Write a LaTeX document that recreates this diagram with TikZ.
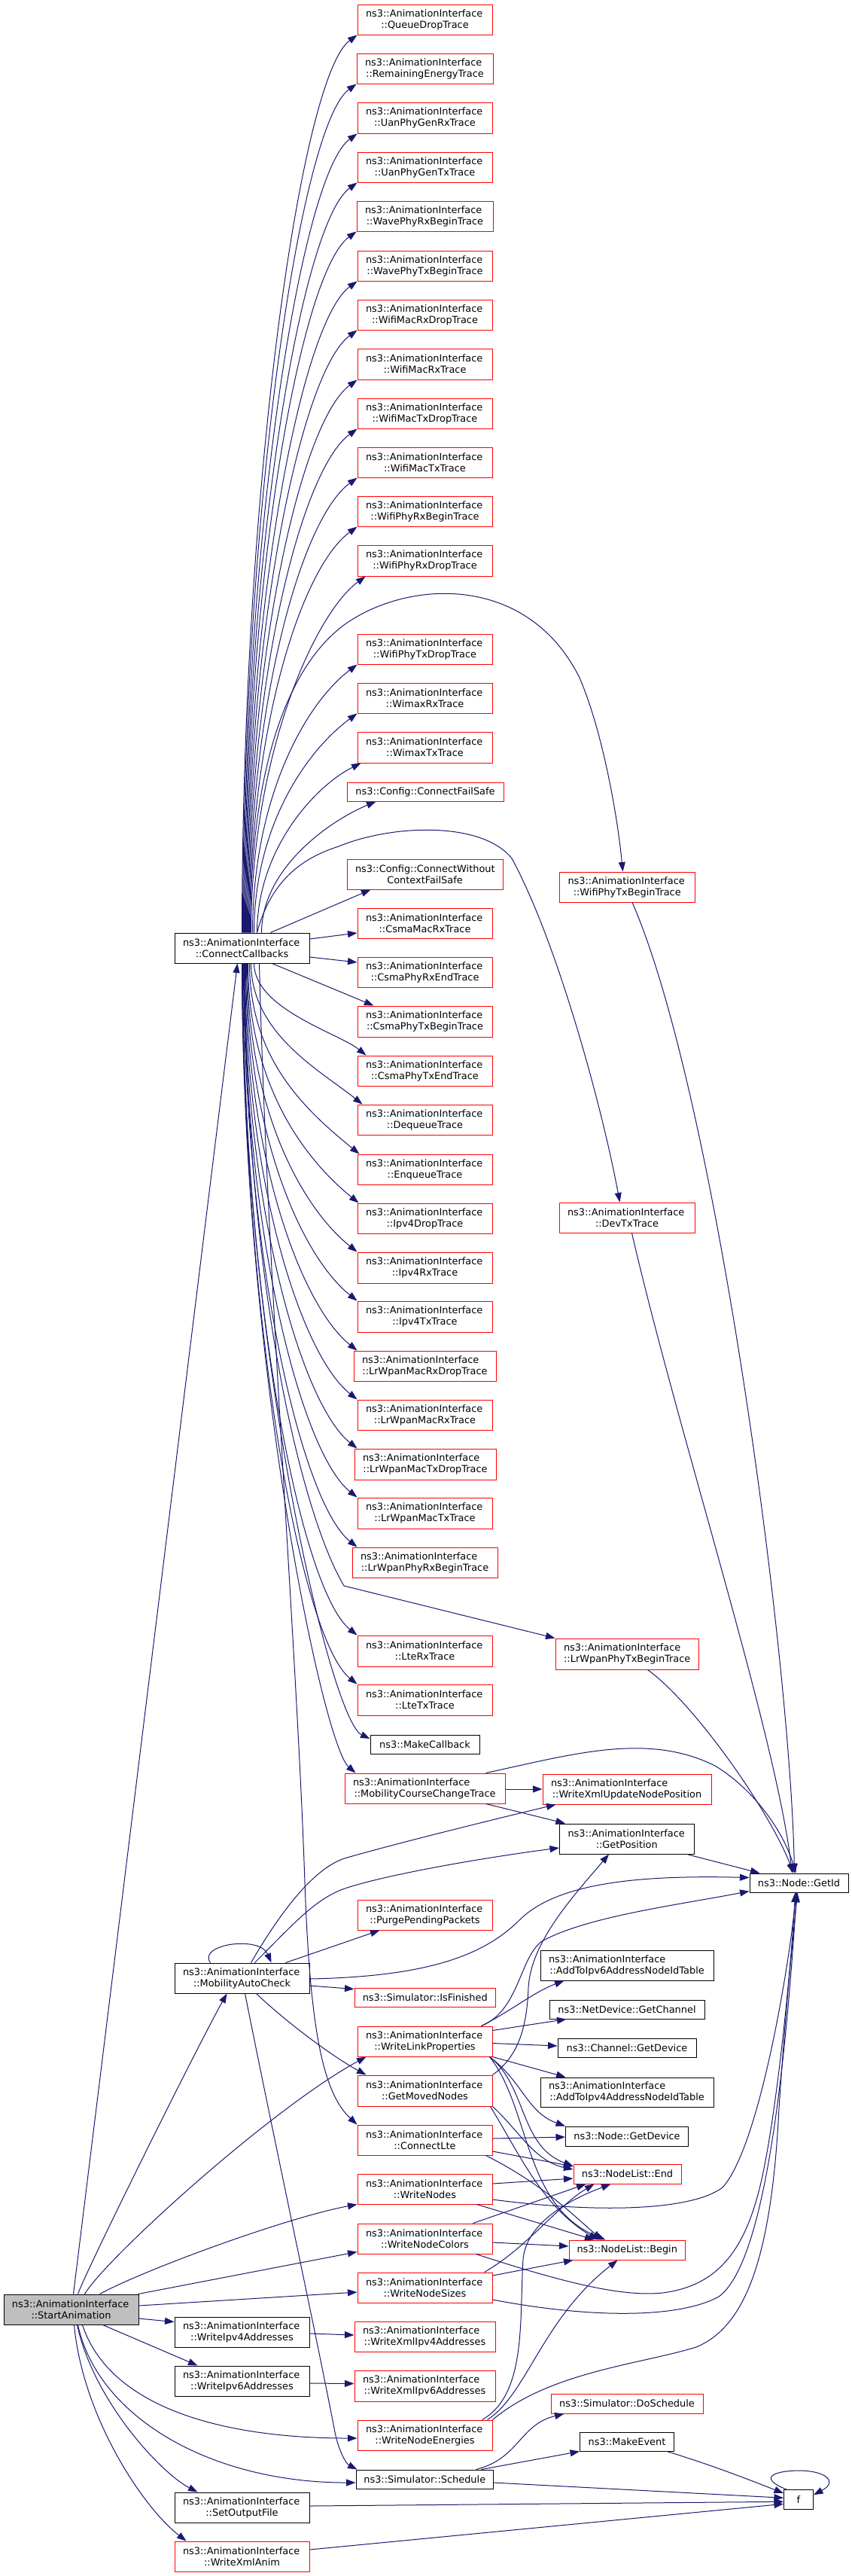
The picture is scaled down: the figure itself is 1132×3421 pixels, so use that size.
\documentclass[tikz,border=0pt]{standalone}
\usepackage{fontspec}
\setmainfont{DejaVu Sans}
\usetikzlibrary{arrows.meta,calc}
\definecolor{edgecol}{HTML}{191970}
\definecolor{redb}{HTML}{FF0000}
\definecolor{greyfill}{HTML}{BFBFBF}
\tikzset{
  box/.style={draw=black, line width=1pt, fill=white, inner sep=0pt, align=center, font=\fontsize{12.9}{15}\selectfont},
  redbox/.style={box, draw=redb},
  rootbox/.style={box, fill=greyfill},
  edge/.style={draw=edgecol, line width=1pt, -{Triangle[length=12.5pt,width=9pt]}},
}
\newcommand\nd[8]{%
  \pgfmathsetmacro\ndw{#4-#2}\pgfmathsetmacro\ndh{#5-#3}\pgfmathsetmacro\ndtw{#4-#2-22}%
  \pgfmathsetmacro\ndx{(#2+#4)/2}\pgfmathsetmacro\ndy{(#3+#5)/2}%
  \node[#6, minimum width=\ndw pt, minimum height=\ndh pt, text width=\ndtw pt] (#1) at (\ndx,\ndy) {\makebox[\hsize][l]{#7}\\#8};}
\newcommand\ndone[7]{%
  \pgfmathsetmacro\ndw{#4-#2}\pgfmathsetmacro\ndh{#5-#3}%
  \pgfmathsetmacro\ndx{(#2+#4)/2}\pgfmathsetmacro\ndy{(#3+#5)/2}%
  \node[#6, minimum width=\ndw pt, minimum height=\ndh pt] (#1) at (\ndx,\ndy) {#7};}
\def\AI{ns3::AnimationInterface}
\begin{document}
\begin{tikzpicture}[x=1pt,y=-1pt]
\fill[white] (0,0) rectangle (1132,3421);
\path[use as bounding box] (0,0) rectangle (1132,3421);
% ---------- nodes: trace column
\nd{T1}{475}{6}{654}{46}{redbox}{\AI}{::QueueDropTrace}
\nd{T2}{474}{71}{655}{111}{redbox}{\AI}{::RemainingEnergyTrace}
\nd{T3}{475}{136}{654}{177}{redbox}{\AI}{::UanPhyGenRxTrace}
\nd{T4}{475}{202}{654}{242}{redbox}{\AI}{::UanPhyGenTxTrace}
\nd{T5}{474}{267}{655}{307}{redbox}{\AI}{::WavePhyRxBeginTrace}
\nd{T6}{475}{333}{654}{373}{redbox}{\AI}{::WavePhyTxBeginTrace}
\nd{T7}{475}{398}{654}{438}{redbox}{\AI}{::WifiMacRxDropTrace}
\nd{T8}{475}{463}{654}{504}{redbox}{\AI}{::WifiMacRxTrace}
\nd{T9}{475}{529}{654}{569}{redbox}{\AI}{::WifiMacTxDropTrace}
\nd{T10}{475}{594}{654}{634}{redbox}{\AI}{::WifiMacTxTrace}
\nd{T11}{475}{659}{654}{699}{redbox}{\AI}{::WifiPhyRxBeginTrace}
\nd{T12}{475}{724}{654}{765}{redbox}{\AI}{::WifiPhyRxDropTrace}
\nd{T13}{475}{842}{654}{882}{redbox}{\AI}{::WifiPhyTxDropTrace}
\nd{T14}{475}{907}{654}{947}{redbox}{\AI}{::WimaxRxTrace}
\nd{T15}{475}{972}{654}{1013}{redbox}{\AI}{::WimaxTxTrace}
\ndone{T16}{461}{1039}{669}{1064}{redbox}{ns3::Config::ConnectFailSafe}
\nd{T17}{461}{1141}{668}{1181}{redbox}{ns3::Config::ConnectWithout}{ContextFailSafe}
\nd{T18}{475}{1206}{654}{1246}{redbox}{\AI}{::CsmaMacRxTrace}
\nd{T19}{475}{1271}{654}{1311}{redbox}{\AI}{::CsmaPhyRxEndTrace}
\nd{T20}{475}{1336}{654}{1377}{redbox}{\AI}{::CsmaPhyTxBeginTrace}
\nd{T21}{475}{1402}{654}{1442}{redbox}{\AI}{::CsmaPhyTxEndTrace}
\nd{T22}{475}{1467}{654}{1507}{redbox}{\AI}{::DequeueTrace}
\nd{T23}{475}{1533}{654}{1573}{redbox}{\AI}{::EnqueueTrace}
\nd{T24}{475}{1598}{654}{1638}{redbox}{\AI}{::Ipv4DropTrace}
\nd{T25}{475}{1663}{654}{1704}{redbox}{\AI}{::Ipv4RxTrace}
\nd{T26}{475}{1728}{654}{1769}{redbox}{\AI}{::Ipv4TxTrace}
\nd{T27}{470}{1794}{659}{1834}{redbox}{\AI}{::LrWpanMacRxDropTrace}
\nd{T28}{475}{1859}{654}{1899}{redbox}{\AI}{::LrWpanMacRxTrace}
\nd{T29}{471}{1924}{659}{1965}{redbox}{\AI}{::LrWpanMacTxDropTrace}
\nd{T30}{475}{1989}{654}{2030}{redbox}{\AI}{::LrWpanMacTxTrace}
\nd{T31}{468}{2055}{661}{2095}{redbox}{\AI}{::LrWpanPhyRxBeginTrace}
\nd{T32}{475}{2172}{654}{2213}{redbox}{\AI}{::LteRxTrace}
\nd{T33}{475}{2237}{654}{2278}{redbox}{\AI}{::LteTxTrace}
\ndone{T34}{492}{2304}{637}{2329}{box}{ns3::MakeCallback}
\nd{T35}{458}{2355}{671}{2395}{redbox}{\AI}{::MobilityCourseChangeTrace}
% ---------- nodes: right part
\nd{WPTB}{743.5}{1158}{923}{1198}{redbox}{\AI}{::WifiPhyTxBeginTrace}
\nd{DevTx}{743}{1597}{923}{1637}{redbox}{\AI}{::DevTxTrace}
\nd{LPTB}{738}{2176}{928.5}{2217}{redbox}{\AI}{::LrWpanPhyTxBeginTrace}
\nd{WXU}{721}{2356}{945}{2396}{redbox}{\AI}{::WriteXmlUpdateNodePosition}
\nd{GP}{743.5}{2422}{922}{2462}{box}{\AI}{::GetPosition}
\ndone{GID}{996}{2488}{1127}{2513}{box}{ns3::Node::GetId}
\nd{A6}{718}{2590}{948}{2630}{box}{\AI}{::AddToIpv6AddressNodeIdTable}
\ndone{NDGC}{730}{2656}{936}{2681}{box}{ns3::NetDevice::GetChannel}
\ndone{CGD}{741}{2707}{925}{2732}{box}{ns3::Channel::GetDevice}
\nd{A4}{718}{2759}{948}{2798}{box}{\AI}{::AddToIpv4AddressNodeIdTable}
\ndone{NGD}{751.5}{2824}{914.5}{2850}{box}{ns3::Node::GetDevice}
\ndone{NLE}{762}{2874}{905}{2900}{redbox}{ns3::NodeList::End}
\ndone{NLB}{756}{2975}{910.5}{3001}{redbox}{ns3::NodeList::Begin}
\ndone{SDS}{732}{3179}{934}{3205}{redbox}{ns3::Simulator::DoSchedule}
\ndone{ME}{770.5}{3230}{895.5}{3255}{box}{ns3::MakeEvent}
\ndone{f}{1041.5}{3306.5}{1080.5}{3332}{box}{f}
% ---------- nodes: second column lower
\nd{PPP}{475}{2523}{654}{2563}{redbox}{\AI}{::PurgePendingPackets}
\ndone{SIF}{471}{2640}{658.5}{2665}{redbox}{ns3::Simulator::IsFinished}
\nd{WLP}{475}{2691}{654}{2731}{redbox}{\AI}{::WriteLinkProperties}
\nd{GMN}{475}{2756}{654}{2797}{redbox}{\AI}{::GetMovedNodes}
\nd{CLTE}{475}{2822}{654}{2862}{redbox}{\AI}{::ConnectLte}
\nd{WN}{475}{2887}{654}{2927}{redbox}{\AI}{::WriteNodes}
\nd{WNC}{475}{2953}{654}{2993}{redbox}{\AI}{::WriteNodeColors}
\nd{WNS}{475}{3018}{654}{3058}{redbox}{\AI}{::WriteNodeSizes}
\nd{WX4}{471}{3083}{658}{3123}{redbox}{\AI}{::WriteXmlIpv4Addresses}
\nd{WX6}{471}{3148}{658}{3189}{redbox}{\AI}{::WriteXmlIpv6Addresses}
\nd{WNE}{475}{3214}{654}{3254}{redbox}{\AI}{::WriteNodeEnergies}
\ndone{SCH}{473}{3280}{655.5}{3305}{box}{ns3::Simulator::Schedule}
% ---------- nodes: middle column
\nd{CC}{232}{1239}{411}{1279}{box}{\AI}{::ConnectCallbacks}
\nd{MAC}{232}{2607}{411}{2647}{box}{\AI}{::MobilityAutoCheck}
\nd{WI4}{232}{3077}{411}{3117}{box}{\AI}{::WriteIpv4Addresses}
\nd{WI6}{232}{3142}{411}{3182}{box}{\AI}{::WriteIpv6Addresses}
\nd{SOF}{232}{3310}{411}{3350}{box}{\AI}{::SetOutputFile}
\nd{WXA}{232}{3375}{411}{3415}{redbox}{\AI}{::WriteXmlAnim}
\nd{SA}{5}{3047}{184}{3087}{rootbox}{\AI}{::StartAnimation}

% ---------- edges from StartAnimation
\draw[edge] ($(SA.north west)+(93,0)$) -- ($(CC.south west)+(84,0)$);
\draw[edge] ($(SA.north west)+(99,0)$) .. controls (116,3012) and (262,2718) .. ($(MAC.south west)+(70,0)$);
\draw[edge] ($(SA.north west)+(108,0)$) .. controls (140,3000) and (360,2800) .. ($(WLP.south west)+(12,0)$);
\draw[edge] ($(SA.north west)+(128,0)$) .. controls (190,3015) and (380,2945) .. (WN.south west);
\draw[edge] ($(SA.north east)+(-1,0)$) -- ($(WNC.south west)+(0,-3)$);
\draw[edge] ($(SA.east)+(0,-5)$) -- ($(WNS.west)+(0,6)$);
\draw[edge] ($(SA.east)+(0,12)$) -- ($(WI4.north west)+(0,7)$);
\draw[edge] ($(SA.south west)+(132,0)$) -- ($(WI6.north west)+(31,0)$);
\draw[edge] ($(SA.south west)+(105,0)$) .. controls (145,3195) and (290,3238) .. ($(WNE.west)+(0,4)$);
\draw[edge] ($(SA.south west)+(99,0)$) .. controls (130,3210) and (280,3297) .. ($(SCH.west)+(0,4.5)$);
\draw[edge] ($(SA.south west)+(98,0)$) .. controls (125,3190) and (215,3285) .. ($(SOF.north west)+(31,0)$);
\draw[edge] ($(SA.south west)+(94,0)$) .. controls (110,3210) and (190,3330) .. ($(WXA.north west)+(16,0)$);

% ---------- edges from ConnectCallbacks (upward)
\draw[edge] ($(CC.north west)+(90,0)$) .. controls (322,643) and (400,101) .. (T1.south west);
\draw[edge] ($(CC.north west)+(91,0)$) .. controls (323,675) and (399,166) .. (T2.south west);
\draw[edge] ($(CC.north west)+(92,0)$) .. controls (324,708) and (400,232) .. (T3.south west);
\draw[edge] ($(CC.north west)+(93,0)$) .. controls (325,740) and (400,297) .. (T4.south west);
\draw[edge] ($(CC.north west)+(94,0)$) .. controls (326,773) and (399,362) .. (T5.south west);
\draw[edge] ($(CC.north west)+(95,0)$) .. controls (327,806) and (400,428) .. (T6.south west);
\draw[edge] ($(CC.north west)+(96,0)$) .. controls (328,838) and (400,493) .. (T7.south west);
\draw[edge] ($(CC.north west)+(97,0)$) .. controls (329,871) and (400,559) .. (T8.south west);
\draw[edge] ($(CC.north west)+(98,0)$) .. controls (330,904) and (400,624) .. (T9.south west);
\draw[edge] ($(CC.north west)+(99,0)$) .. controls (331,936) and (400,689) .. (T10.south west);
\draw[edge] ($(CC.north west)+(100,0)$) .. controls (332,969) and (400,754) .. (T11.south west);
\draw[edge] ($(CC.north west)+(102,0)$) .. controls (334,1002) and (418,815) .. ($(T12.south west)+(11,0)$);
\draw[edge] ($(CC.north west)+(104,0)$) .. controls (336,1060) and (405,935) .. (T13.south west);
\draw[edge] ($(CC.north west)+(106,0)$) .. controls (338,1093) and (410,995) .. (T14.south west);
\draw[edge] ($(CC.north west)+(110,0)$) .. controls (342,1126) and (420,1043) .. ($(T15.south west)+(5,0)$);
\draw[edge] ($(CC.north west)+(116,0)$) .. controls (348,1152) and (440,1089) .. ($(T16.south west)+(39,0)$);
\draw[edge] ($(CC.north west)+(128,0)$) -- ($(T17.south west)+(32,0)$);
\draw[edge] ($(CC.north west)+(101,0)$) .. controls (333,1000) and (390,880) .. (457,830)
  .. controls (540,770) and (700,760) .. (770,900)
  .. controls (800,970) and (820,1080) .. ($(WPTB.north west)+(84.5,0)$);
\draw[edge] ($(CC.north west)+(110,0)$) .. controls (360,1170) and (400,1140) .. (450,1124)
  .. controls (520,1095) and (640,1090) .. (680,1140)
  .. controls (740,1250) and (800,1470) .. ($(DevTx.north west)+(81,0)$);
% ---------- edges from ConnectCallbacks (side and downward)
\draw[edge] ($(CC.east)+(0,-12)$) -- ($(T18.west)+(0,13)$);
\draw[edge] ($(CC.east)+(0,12)$) -- ($(T19.west)+(0,-13)$);
\draw[edge] ($(CC.south west)+(130,0)$) -- ($(T20.north west)+(22,0)$);
\draw[edge] ($(CC.south west)+(106,0)$) .. controls (338,1340) and (450,1372) .. ($(T21.north west)+(12,0)$);
\draw[edge] ($(CC.south west)+(102,0)$) .. controls (334,1373) and (426,1422) .. ($(T22.north west)+(7,0)$);
\draw[edge] ($(CC.south west)+(100,0)$) .. controls (332,1405) and (403,1472) .. ($(T23.north west)+(3,0)$);
\draw[edge] ($(CC.south west)+(98,0)$) .. controls (330,1438) and (402,1537) .. ($(T24.north west)+(2,0)$);
\draw[edge] ($(CC.south west)+(97,0)$) .. controls (329,1471) and (400,1603) .. (T25.north west);
\draw[edge] ($(CC.south west)+(96,0)$) .. controls (328,1503) and (400,1668) .. (T26.north west);
\draw[edge] ($(CC.south west)+(95,0)$) .. controls (327,1536) and (400,1734) .. ($(T27.north west)+(5,0)$);
\draw[edge] ($(CC.south west)+(94,0)$) .. controls (326,1569) and (400,1799) .. (T28.north west);
\draw[edge] ($(CC.south west)+(93,0)$) .. controls (325,1601) and (400,1864) .. ($(T29.north west)+(4,0)$);
\draw[edge] ($(CC.south west)+(92.5,0)$) .. controls (324,1634) and (400,1929) .. (T30.north west);
\draw[edge] ($(CC.south west)+(92,0)$) .. controls (324,1667) and (400,1995) .. ($(T31.north west)+(7,0)$);
\draw[edge] ($(CC.south west)+(94,0)$) .. controls (326,1700) and (400,2010) .. (457,2106) -- (LPTB.north west);
\draw[edge] ($(CC.south west)+(91,0)$) .. controls (323,1726) and (400,2112) .. (T32.north west);
\draw[edge] ($(CC.south west)+(91,0)$) .. controls (323,1758) and (400,2177) .. (T33.north west);
\draw[edge] ($(CC.south west)+(90,0)$) .. controls (322,1794) and (440,2285) .. ($(T34.west)+(0,-7.5)$);
\draw[edge] ($(CC.south west)+(90,0)$) .. controls (322,1817) and (430,2318) .. ($(T35.north west)+(15,0)$);
\draw[edge] ($(CC.south west)+(113,0)$) .. controls (355,1700) and (395,2200) .. (405,2500)
  .. controls (412,2700) and (430,2780) .. (CLTE.north west);

% ---------- edges to Node::GetId from above
\draw[edge] ($(WPTB.south west)+(97,0)$) .. controls (950,1450) and (1050,2200) .. ($(GID.north west)+(60,0)$);
\draw[edge] ($(DevTx.south west)+(97,0)$) .. controls (900,1900) and (1030,2300) .. ($(GID.north west)+(57,0)$);
\draw[edge] ($(LPTB.south west)+(123,0)$) .. controls (920,2260) and (1020,2400) .. ($(GID.north west)+(59,0)$);
\draw[edge] ($(T35.north west)+(188,0)$) .. controls (760,2330) and (860,2300) .. (950,2345)
  .. controls (1000,2375) and (1040,2430) .. ($(GID.north west)+(62,0)$);
\draw[edge] ($(T35.east)+(0,1)$) -- (WXU.west);
\draw[edge] ($(T35.south west)+(188,0)$) -- ($(GP.north west)+(8,0)$);
\draw[edge] ($(GP.south east)+(-10,0)$) -- ($(GID.north west)+(14,0)$);

% ---------- edges from MobilityAutoCheck
\draw[edge] ($(MAC.north west)+(48,0)$) .. controls (262,2582) and (345,2570) .. ($(MAC.north west)+(129,0)$);
\draw[edge] ($(MAC.north west)+(102,0)$) .. controls (375,2535) and (420,2478) .. (461,2467)
  .. controls (520,2450) and (640,2420) .. ($(WXU.south west)+(18,0)$);
\draw[edge] ($(MAC.north west)+(107,0)$) .. controls (390,2555) and (420,2520) .. (461,2507)
  .. controls (520,2488) and (650,2466) .. ($(GP.west)+(0,12)$);
\draw[edge] ($(MAC.north west)+(148,0)$) -- ($(PPP.south west)+(30,0)$);
\draw[edge] ($(MAC.east)+(0,1)$) .. controls (560,2625) and (640,2600) .. (690,2550)
  .. controls (740,2500) and (850,2490) .. ($(GID.north west)+(0,6)$);
\draw[edge] ($(MAC.east)+(0,10)$) -- ($(SIF.north west)+(0,2)$);
\draw[edge] ($(MAC.south west)+(109,0)$) .. controls (380,2685) and (440,2730) .. ($(GMN.north west)+(12,0)$);
\draw[edge] ($(MAC.south west)+(94,0)$) .. controls (370,2870) and (420,3100) .. (445,3230)
  .. controls (450,3255) and (460,3272) .. ($(SCH.north west)+(2,0)$);

% ---------- WriteLinkProperties
\draw[edge] ($(WLP.north west)+(165,0)$) .. controls (690,2670) and (690,2600) .. (720,2578)
  .. controls (780,2545) and (900,2530) .. ($(GID.south west)+(0,-2)$);
\draw[edge] ($(WLP.north west)+(165,0)$) .. controls (680,2670) and (710,2645) .. ($(A6.south west)+(32,0)$);
\draw[edge] ($(WLP.north east)+(0,6)$) -- ($(NDGC.south west)+(23,0)$);
\draw[edge] ($(WLP.north east)+(0,23)$) -- ($(CGD.west)+(0,-2.5)$);
\draw[edge] (WLP.south east) -- ($(A4.north west)+(34,0)$);
\draw[edge] ($(WLP.south east)+(-4,0)$) .. controls (695,2765) and (700,2805) .. (NGD.north west);
\draw[edge] ($(WLP.south east)+(-4,0)$) .. controls (700,2770) and (690,2850) .. ($(NLE.north west)+(0,3)$);
\draw[edge] ($(WLP.south east)+(-4,0)$) .. controls (705,2800) and (695,2930) .. ($(NLB.north west)+(49,0)$);
% ---------- GetMovedNodes
\draw[edge] (GMN.north east) .. controls (690,2730) and (700,2690) .. (702,2640)
  .. controls (705,2580) and (760,2520) .. ($(GP.south west)+(66,0)$);
\draw[edge] (GMN.south east) .. controls (690,2830) and (710,2870) .. ($(NLE.west)+(0,-6)$);
\draw[edge] ($(GMN.south east)+(-3,0)$) .. controls (690,2860) and (720,2930) .. ($(NLB.north west)+(39,0)$);
% ---------- ConnectLte
\draw[edge] ($(CLTE.east)+(0,-2)$) -- ($(NGD.west)+(0,1)$);
\draw[edge] ($(CLTE.east)+(0,15)$) -- ($(NLE.west)+(0,-10)$);
\draw[edge] ($(CLTE.south east)+(-9,0)$) .. controls (720,2900) and (760,2940) .. ($(NLB.north west)+(44,0)$);
% ---------- WriteNodes
\draw[edge] ($(WN.east)+(0,-7)$) -- ($(NLE.west)+(0,6)$);
\draw[edge] ($(WN.south east)+(-21,0)$) -- ($(NLB.north west)+(34,0)$);
\draw[edge] ($(WN.east)+(0,14)$) .. controls (800,2940) and (920,2935) .. (960,2905)
  .. controls (1010,2850) and (1050,2600) .. ($(GID.south west)+(62,0)$);
% ---------- WriteNodeColors
\draw[edge] ($(WNC.north west)+(154,0)$) -- ($(NLE.south west)+(17,0)$);
\draw[edge] ($(WNC.east)+(0,5)$) -- ($(NLB.west)+(0,-5)$);
\draw[edge] ($(WNC.south west)+(158,0)$) .. controls (760,3035) and (830,3050) .. (880,3045)
  .. controls (960,3035) and (995,2980) .. (1015,2880)
  .. controls (1035,2780) and (1052,2600) .. ($(GID.south west)+(61,0)$);
% ---------- WriteNodeSizes
\draw[edge] ($(WNS.north west)+(169,0)$) .. controls (700,2985) and (740,2930) .. ($(NLE.south west)+(28,0)$);
\draw[edge] ($(WNS.east)+(0,-16)$) -- ($(NLB.south west)+(6,0)$);
\draw[edge] ($(WNS.east)+(0,16)$) .. controls (780,3078) and (900,3080) .. (955,3050)
  .. controls (1010,3010) and (1040,2800) .. ($(GID.south west)+(63,0)$);
% ---------- WriteNodeEnergies
\draw[edge] ($(WNE.north west)+(166,0)$) .. controls (700,3180) and (690,3080) .. (695,3000)
  .. controls (700,2950) and (760,2920) .. ($(NLE.south west)+(50,0)$);
\draw[edge] ($(WNE.north west)+(173,0)$) .. controls (700,3180) and (720,3080) .. ($(NLB.south west)+(65,0)$);
\draw[edge] (WNE.north east) .. controls (730,3150) and (850,3140) .. (925,3117)
  .. controls (990,3090) and (1025,3000) .. (1035,2800)
  .. controls (1045,2650) and (1055,2560) .. ($(GID.south west)+(64,0)$);
% ---------- address writers
\draw[edge] ($(WI4.east)+(0,2)$) -- ($(WX4.west)+(0,-2)$);
\draw[edge] ($(WI6.east)+(0,3)$) -- ($(WX6.west)+(0,-3)$);
% ---------- Schedule, MakeEvent, f
\draw[edge] ($(SCH.north west)+(160,0)$) .. controls (690,3265) and (690,3220) .. ($(SDS.south west)+(18,0)$);
\draw[edge] ($(SCH.north west)+(167,0)$) -- (ME.south west);
\draw[edge] ($(SCH.east)+(0,4.5)$) -- ($(f.west)+(0,-2)$);
\draw[edge] ($(ME.south east)+(-10,0)$) .. controls (950,3275) and (1000,3295) .. ($(f.north west)+(0,5)$);
\draw[edge] ($(f.north west)+(4,0)$) .. controls (1005,3290) and (1030,3281) .. (1062,3281)
  .. controls (1095,3281) and (1115,3295) .. ($(f.east)+(0,-6)$);
\draw[edge] ($(SOF.east)+(0,-2)$) -- ($(f.west)+(0,3)$);
\draw[edge] ($(WXA.east)+(0,-9)$) -- ($(f.west)+(0,6)$);
\end{tikzpicture}
\end{document}
